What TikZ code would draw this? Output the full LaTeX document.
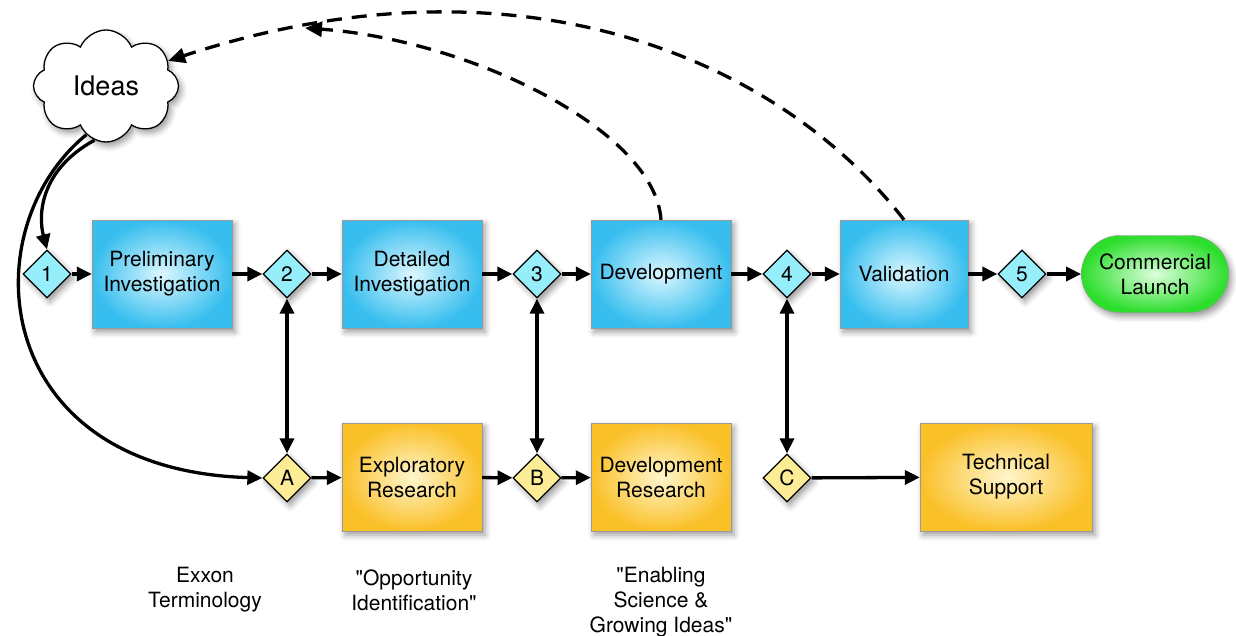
\documentclass[tikz,border=0pt]{standalone}
\usepackage{fontspec}
\setmainfont{TeX Gyre Heros}[Ligatures=TeXOff]
\usetikzlibrary{arrows.meta, positioning, shapes.geometric, shapes.symbols, shapes.misc, shadows.blur}
\definecolor{stageBlue}{RGB}{55,190,238}
\definecolor{stageBlueIn}{RGB}{220,247,255}
\definecolor{resOrange}{RGB}{250,192,40}
\definecolor{resOrangeIn}{RGB}{255,246,205}
\definecolor{launchGreen}{RGB}{45,222,45}
\definecolor{launchGreenIn}{RGB}{220,255,220}
\definecolor{gateCyan}{RGB}{150,238,250}
\definecolor{gateYellow}{RGB}{252,236,150}

\begin{document}
\begin{tikzpicture}[x=1pt, y=-1pt,
    font=\fontsize{21}{25}\selectfont,
    softshadow/.style={blur shadow={shadow xshift=3pt, shadow yshift=-4pt, shadow blur radius=6pt, shadow opacity=40}},
    stage/.style={rectangle, draw=black!40, shade, inner color=stageBlueIn, outer color=stageBlue, minimum width=140pt, minimum height=108pt, align=center, softshadow},
    research/.style={stage, inner color=resOrangeIn, outer color=resOrange},
    gate/.style={diamond, draw=black, line width=1.3pt, fill=gateCyan, minimum width=48pt, minimum height=48pt, inner sep=0pt, softshadow},
    resgate/.style={gate, fill=gateYellow},
    flow/.style={line width=3.3pt, -{Triangle[length=15pt,width=14pt]}},
    link/.style={line width=3.3pt, {Triangle[length=15pt,width=14pt]}-{Triangle[length=15pt,width=14pt]}},
    feedback/.style={line width=3.3pt, dash pattern=on 15pt off 10pt, -{Triangle[length=17pt,width=15pt]}},
    caption/.style={align=center}]
  \useasboundingbox (0,0) rectangle (1236,635);
  % idea source
  \node[cloud, cloud puffs=8, cloud puff arc=135, aspect=1.3, draw=black, line width=1.3pt, fill=white,
        minimum width=145pt, minimum height=112pt, softshadow, font=\fontsize{27}{30}\selectfont] (ideas) at (106,86) {Ideas};
  % stage-gate row
  \node[gate] (g1) at (47,274) {1};
  \node[stage] (prelim) at (162,274) {Preliminary\\Investigation};
  \node[gate] (g2) at (287,274) {2};
  \node[stage] (detail) at (412,274) {Detailed\\Investigation};
  \node[gate] (g3) at (537,274) {3};
  \node[stage] (devel) at (661,274) {Development};
  \node[gate] (g4) at (787,274) {4};
  \node[stage, minimum width=128pt] (valid) at (904,274) {Validation};
  \node[gate] (g5) at (1022,274) {5};
  \node[rounded rectangle, draw=black!40, shade, inner color=launchGreenIn, outer color=launchGreen,
        minimum width=154pt, minimum height=77pt, align=center, softshadow] (launch) at (1155,274) {Commercial\\Launch};
  % research row
  \node[resgate] (gA) at (287,478) {A};
  \node[research] (explor) at (412,477) {Exploratory\\Research};
  \node[resgate] (gB) at (537,478) {B};
  \node[research] (devres) at (661,477) {Development\\Research};
  \node[resgate] (gC) at (787,478) {C};
  \node[research, minimum width=172pt] (techsup) at (1006,477) {Technical\\Support};
  % captions
  \node[caption] (capExxon) at (205,590) {Exxon\\Terminology};
  \node[caption] (capOpp) at (414,590) {"Opportunity\\Identification"};
  \node[caption] (capEnab) at (661,602) {"Enabling\\Science \&\\Growing Ideas"};

  % main flow
  \draw[flow] (g1) -- (prelim);
  \draw[flow] (prelim) -- (g2);
  \draw[flow] (g2) -- (detail);
  \draw[flow] (detail) -- (g3);
  \draw[flow] (g3) -- (devel);
  \draw[flow] (devel) -- (g4);
  \draw[flow] (g4) -- (valid);
  \draw[flow] (valid) -- (g5);
  \draw[flow] (g5) -- (launch);
  \draw[flow] (gA) -- (explor);
  \draw[flow] (explor) -- (gB);
  \draw[flow] (gB) -- (devres);
  \draw[flow] (gC) -- (techsup);
  % gate links
  \draw[link] (g2) -- (gA);
  \draw[link] (g3) -- (gB);
  \draw[link] (g4) -- (gC);
  % from ideas
  \draw[flow] (ideas.258) .. controls (40,170) and (38,215) .. (g1.north);
  \draw[flow] (ideas.248) .. controls (-30,230) and (-10,470) .. (gA.west);
  % feedback loops
  \coordinate (fbTip) at (305,28);
  \draw[feedback] (devel.north) .. controls (655,130) and (470,40) .. (fbTip);
  \draw[feedback] (valid.north) .. controls (780,60) and (520,-55) .. (ideas.22);
\end{tikzpicture}
\end{document}
